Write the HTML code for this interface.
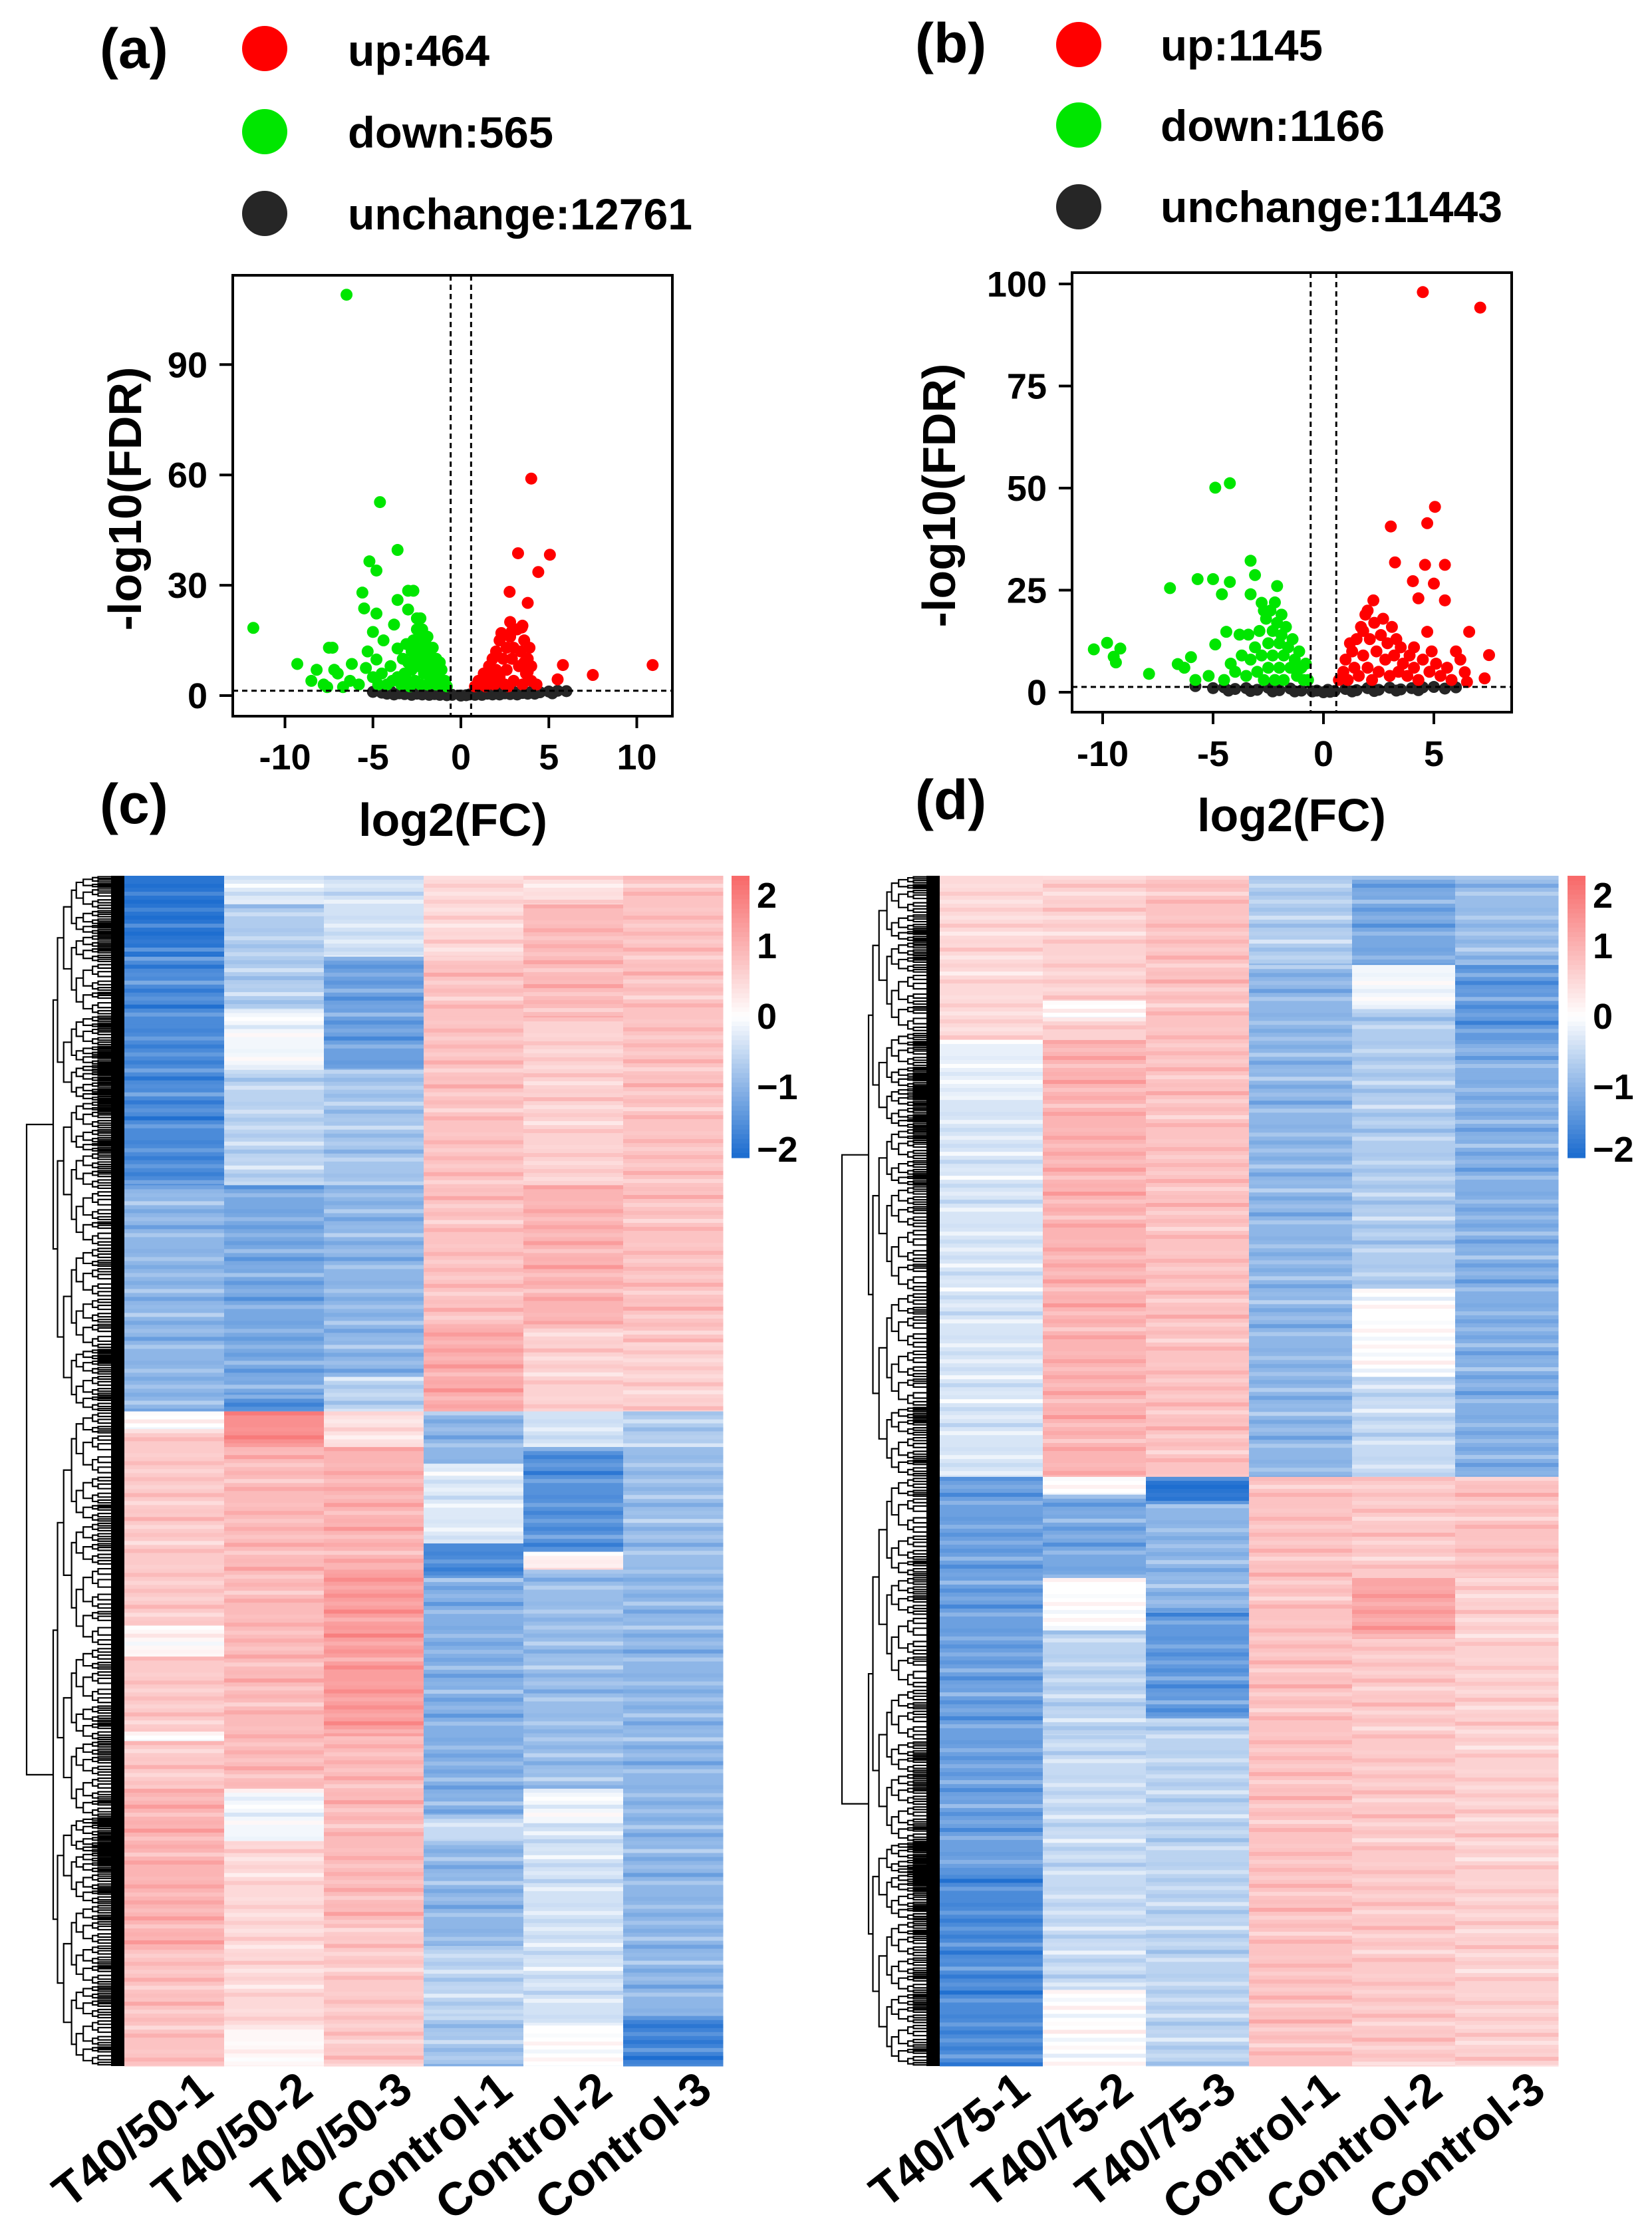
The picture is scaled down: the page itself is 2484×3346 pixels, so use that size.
<!DOCTYPE html>
<html><head><meta charset="utf-8"><style>
html,body{margin:0;padding:0;background:#fff}
svg{display:block}
text{font-family:"Liberation Sans",Arial,sans-serif;font-weight:bold;fill:#000}
</style></head><body>
<svg id="fig" width="2484" height="3346" viewBox="0 0 2484 3346" xmlns="http://www.w3.org/2000/svg">
<g id="root"></g>
</svg>
<script>
// ---------- DATA ----------
const aLegend = ["up:464","down:565","unchange:12761"];
const bLegend = ["up:1145","down:1166","unchange:11443"];
const aXTicks = [-10,-5,0,5,10];
const aYTicks = [0,30,60,90];
const bXTicks = [-10,-5,0,5];
const bYTicks = [0,25,50,75,100];

const aGreen = [[-6.5,109],[-11.8,18.4],[-4.6,52.6],[-3.6,39.6],[-5.2,36.5],[-4.8,34],[-5.6,28],[-3,28.5],[-2.7,28.5],[-3.6,26],[-5.5,23.7],[-4.8,22.3],[-3,23.4],[-2.3,21],[-3.8,19.3],[-5,17.3],[-9.3,8.6],[-7.5,13],[-7.3,13],[-8.2,7],[-8.5,4],[-7.6,2.3],[-6.7,2.3],[-6.2,8.6],[-5.4,7.5],[-4.8,9.8],[-3.6,12.8],
[-3.4,3],[-3.2,6],[-3.0,9],[-3.0,4],[-2.8,12],[-2.8,7],[-2.7,15],[-2.6,10],[-2.6,4],[-2.5,18],[-2.4,13],[-2.4,8],[-2.3,3],[-2.2,16],[-2.2,11],[-2.1,6],[-2.0,14],[-2.0,9],[-1.9,3],[-1.8,12],[-1.8,7],[-1.7,10],[-1.6,5],[-1.5,8],[-1.4,3],[-1.3,6],[-1.2,4],[-1.1,7],[-1.0,3],[-0.9,4],[-0.8,2.5],[-2.9,2.5],[-3.3,10],[-3.6,5],[-3.9,4],[-4.2,3],[-4.5,6],[-4.0,8],[-4.7,3],[-5.0,5],[-5.8,3],[-6.3,4],[-7.0,6],[-7.8,3],[-3.1,14],[-2.5,21],[-2.2,18],[-1.9,16],[-1.6,13],[-1.4,10],[-1.2,9],[-5.3,12],[-4.4,15],[-7.2,7]];
const aRed = [[4,59],[3.25,38.7],[5.06,38.3],[4.4,33.6],[2.77,28.2],[3.8,25.2],[2.8,20],[3.46,18.5],[10.9,8.3],[5.8,8.3],[7.5,5.6],[5.5,4.4],
[0.8,2.5],[1.0,4],[1.2,3],[1.3,6],[1.5,4],[1.6,8],[1.7,5],[1.8,10],[1.9,3],[2.0,12],[2.0,7],[2.2,15],[2.2,5],[2.3,17],[2.4,10],[2.5,3],[2.6,13],[2.6,7],[2.8,16],[2.9,10],[3.0,4],[3.0,13],[3.2,18],[3.3,8],[3.4,12],[3.5,3],[3.6,15],[3.7,6],[3.8,10],[3.9,13],[4.0,4],[4.0,8],[3.5,19],[2.9,17.5],[1.4,2.5],[2.7,2.5],[4.3,3],[3.8,6.5],[3.6,9]];
const aGray = [[-5,1],[-4.5,0.8],[-4,1.2],[-3.5,0.6],[-3,1],[-2.5,0.5],[-2,1.1],[-1.5,0.4],[-1,0.9],[-0.5,0.2],[0,0],[0.5,0.3],[1,0.8],[1.5,0.5],[2,1],[2.5,0.6],[3,1],[3.5,0.7],[4,1],[4.5,0.9],[5,1.1],[5.5,1.3],[6,1.2],[-4.8,1.5],[-3.8,0.3],[-2.8,0.2],[-1.8,0.2],[-0.8,0.1],[0.3,0.1],[1.2,0.2],[2.2,0.3],[3.2,0.3],[4.2,0.5],[5.2,0.6],[-4.2,0.5],[-3.2,0.4],[-2.2,0.3],[-1.2,0.2],[0.8,0.2],[1.8,0.3],[2.8,0.4],[3.8,0.5]];

const bGreen = [[-4.24,51.2],[-4.9,50.1],[-3.3,32.2],[-3.1,28.7],[-5.7,27.7],[-5,27.7],[-4.24,27],[-6.95,25.5],[-2.1,26],[-4.6,24],[-3.3,24],[-2.8,21.9],[-10.4,10.5],[-9.8,12.1],[-9.2,10.7],[-9.5,8.7],[-9.4,7.3],[-7.9,4.5],[-6.6,6.9],[-6,8.6],[-4.9,11.7],[-4.4,14.8],[-3.8,14.1],[-3.4,14.1],
[-3.5,4],[-3.3,8],[-3.1,11],[-3.0,5],[-2.9,15],[-2.8,9],[-2.7,3],[-2.6,18],[-2.5,12],[-2.5,6],[-2.4,20],[-2.3,15],[-2.3,9],[-2.2,3],[-2.1,17],[-2.0,12],[-2.0,6],[-1.9,14],[-1.8,9],[-1.8,3],[-1.7,16],[-1.6,11],[-1.5,6],[-1.4,13],[-1.3,8],[-1.2,4],[-1.1,10],[-1.0,6],[-0.9,3],[-0.8,7],[-0.7,3],[-4.0,5],[-4.5,3],[-5.2,4],[-5.8,3],[-6.3,6],[-3.7,9],[-2.7,20],[-2.2,22],[-1.9,19],[-4.2,7]];
const bRed = [[4.5,98],[7.1,94.2],[5.05,45.4],[4.7,41.4],[3.05,40.6],[3.24,31.8],[4.6,31.2],[5.5,31.2],[4.05,27.2],[5,26.6],[4.3,23],[5.5,22.5],[2.26,22.5],[6.6,14.8],[4.7,14.8],[7.5,9.1],[7.3,3.4],[6,10],[6.4,4.9],
[0.7,3],[0.9,5],[1.0,8],[1.1,3],[1.3,10],[1.4,6],[1.5,13],[1.6,4],[1.7,16],[1.8,9],[1.9,19],[2.0,6],[2.1,13],[2.2,3],[2.3,17],[2.4,10],[2.5,5],[2.6,14],[2.7,18],[2.8,8],[2.9,12],[3.0,4],[3.1,16],[3.2,9],[3.3,13],[3.4,5],[3.5,11],[3.6,7],[3.8,4],[3.9,9],[4.1,6],[4.3,3],[4.5,8],[4.8,5],[5.1,7],[5.3,4],[5.6,6],[5.8,3],[6.2,8],[6.5,2.5],[4.1,11],[4.9,10],[2.0,20],[1.8,15],[1.2,12]];
const bGray = [[-5.8,1.5],[-5,1],[-4.5,1.2],[-4,0.8],[-3.5,1],[-3,0.6],[-2.5,1.1],[-2,0.5],[-1.5,0.9],[-1,0.4],[-0.5,0.2],[0,0],[0.5,0.3],[1,0.8],[1.5,0.5],[2,1],[2.5,0.6],[3,1.1],[3.5,0.7],[4,1],[4.5,1.2],[5,1.3],[5.5,0.9],[6,1.2],[-4.3,0.4],[-3.3,0.3],[-2.3,0.2],[-1.3,0.2],[0.3,0.1],[1.3,0.2],[2.3,0.3],[3.3,0.4],[4.3,0.5],[-0.3,0.4],[0.2,0.6]];

const cCols = ["T40/50-1","T40/50-2","T40/50-3","Control-1","Control-2","Control-3"];
// segments: [startFrac, endFrac, value]
const cSegs = [
 [[0,.068,-1.9],[.068,.26,-1.6],[.26,.45,-1.0],[.45,.465,0],[.465,.63,0.7],[.63,.656,0.1],[.656,.719,0.7],[.719,.727,0],[.727,.767,0.7],[.767,.899,1.0],[.899,1,0.8]],
 [[0,.024,-0.3],[.024,.112,-0.7],[.112,.163,-0.1],[.163,.26,-0.6],[.26,.436,-1.2],[.436,.45,-1.5],[.45,.48,1.5],[.48,.767,0.9],[.767,.811,-0.1],[.811,.966,0.5],[.966,1,0.1]],
 [[0,.068,-0.4],[.068,.163,-1.3],[.163,.26,-0.8],[.26,.421,-1.0],[.421,.45,-0.6],[.45,.48,0.4],[.48,.583,1.0],[.583,.723,1.3],[.723,.884,0.9],[.884,1,0.7]],
 [[0,.068,0.5],[.068,.377,0.8],[.377,.45,1.1],[.45,.494,-1.0],[.494,.561,-0.3],[.561,.59,-1.6],[.59,.789,-1.1],[.789,.811,-0.5],[.811,.899,-1.0],[.899,.958,-0.6],[.958,1,-0.8]],
 [[0,.024,0.4],[.024,.119,0.9],[.119,.26,0.6],[.26,.377,1.0],[.377,.45,0.6],[.45,.48,-0.4],[.48,.568,-1.5],[.568,.583,0.2],[.583,.767,-0.9],[.767,.796,-0.1],[.796,.966,-0.4],[.966,1,0]],
 [[0,.392,0.8],[.392,.45,0.6],[.45,.48,-0.7],[.48,.583,-0.9],[.583,.958,-1.0],[.958,1,-1.7]]
];
const dCols = ["T40/75-1","T40/75-2","T40/75-3","Control-1","Control-2","Control-3"];
const dSegs = [
 [[0,.138,0.5],[.138,.185,-0.2],[.185,.505,-0.35],[.505,.836,-1.3],[.836,1,-1.6]],
 [[0,.105,0.6],[.105,.119,0],[.119,.138,0.6],[.138,.505,1.0],[.505,.52,0],[.52,.59,-1.2],[.59,.634,0],[.634,.722,-0.6],[.722,.936,-0.5],[.936,1,0]],
 [[0,.505,0.8],[.505,.528,-1.9],[.528,.619,-1.0],[.619,.708,-1.4],[.708,1,-0.6]],
 [[0,.075,-0.7],[.075,.505,-1.0],[.505,1,0.8]],
 [[0,.075,-1.2],[.075,.112,-0.1],[.112,.347,-0.7],[.347,.421,0],[.421,.505,-0.5],[.505,.59,0.7],[.59,.641,1.2],[.641,1,0.7]],
 [[0,.075,-0.9],[.075,.138,-1.4],[.138,.505,-1.1],[.505,.59,0.8],[.59,1,0.6]]
];
const cbTicks = [2,1,0,-1,-2];
const cSplit = 0.45, dSplit = 0.505;
// subtle row striping offsets (value deltas) cycled down each column
const stripeDeltas = [0.15,-0.1,0.25,-0.2,0.05,0.3,-0.15,0.1,-0.25,0.2,0,-0.05,0.18,-0.12];

// ---------- DRAWING ----------
const NS="http://www.w3.org/2000/svg";
const root=document.getElementById('root');
function el(tag,attrs,parent){const e=document.createElementNS(NS,tag);for(const k in attrs)e.setAttribute(k,attrs[k]);(parent||root).appendChild(e);return e;}
function txt(s,attrs,parent){const e=el('text',attrs,parent);e.textContent=s;return e;}

function volcano(cfg){
  const g=el('g',{});
  
  
  const X=v=>cfg.x0+v*cfg.xs, Y=v=>cfg.y0-v*cfg.ys;
  const pl=txt(cfg.label,{x:cfg.labX,y:cfg.labY,'font-size':84},g);
  
  const cols=['#ff0000','#00e600','#262626'];
  cfg.legend.forEach((s,i)=>{
    const lg=el('g',{},g);
    
    el('circle',{cx:cfg.legCx,cy:cfg.legCy[i],r:34,fill:cols[i]},lg);
    txt(s,{x:cfg.legTx,y:cfg.legBase[i],'font-size':66,textLength:cfg.legW[i],lengthAdjust:'spacingAndGlyphs'},lg);
  });
  const plot=el('g',{},g);
  
  const draw=(arr,c)=>arr.forEach(p=>{const d=el('circle',{cx:X(p[0]),cy:Y(p[1]),r:9,fill:c},plot);});
  draw(cfg.gray,'#262626');draw(cfg.green,'#00e600');draw(cfg.red,'#ff0000');
  [-0.58,0.58].forEach(v=>el('line',{x1:X(v),x2:X(v),y1:cfg.top,y2:cfg.bot,stroke:'#000','stroke-width':3,'stroke-dasharray':'8,6'},plot));
  el('line',{x1:cfg.left,x2:cfg.right,y1:Y(1.3),y2:Y(1.3),stroke:'#000','stroke-width':3,'stroke-dasharray':'8,6'},plot);
  const box=el('rect',{x:cfg.left,y:cfg.top,width:cfg.right-cfg.left,height:cfg.bot-cfg.top,fill:'none',stroke:'#000','stroke-width':4},g);
  
  cfg.xt.forEach(v=>{el('line',{x1:X(v),x2:X(v),y1:cfg.bot,y2:cfg.bot+18,stroke:'#000','stroke-width':4},g);
    const t=txt((v<0?'-':'')+Math.abs(v),{x:X(v),y:cfg.xtY,'font-size':54,'text-anchor':'middle'},g);});
  cfg.yt.forEach(v=>{el('line',{x1:cfg.left-20,x2:cfg.left,y1:Y(v),y2:Y(v),stroke:'#000','stroke-width':4},g);
    const t=txt(String(v),{x:cfg.left-38,y:Y(v)+19,'font-size':54,'text-anchor':'end'},g);});
  const yt=txt('-log10(FDR)',{x:0,y:0,'font-size':70,'text-anchor':'middle',transform:`translate(${cfg.yTitleX},${cfg.yTitleY}) rotate(-90)`},g);
  
  const xt=txt('log2(FC)',{x:cfg.xTitleX,y:cfg.xTitleY,'font-size':70,'text-anchor':'middle'},g);
  
}
volcano({name:'volcano-a',label:'(a)',labX:150,labY:102,x0:693,xs:26.45,y0:1046,ys:5.53,left:350,right:1011,top:414,bot:1077,
  legend:aLegend,legCx:398,legCy:[73,198,321],legTx:523,legBase:[99,222,345],legW:[213,309,518],
  green:aGreen,red:aRed,gray:aGray,xt:aXTicks,yt:aYTicks,xtY:1157,yTitleX:212,yTitleY:750,xTitleX:681,xTitleY:1257});
volcano({name:'volcano-b',label:'(b)',labX:1376,labY:94,x0:1990,xs:33.2,y0:1041,ys:6.14,left:1612,right:2273,top:410,bot:1071,
  legend:bLegend,legCx:1622,legCy:[67,188,311],legTx:1745,legBase:[91,212,334],legW:[244,337,514],
  green:bGreen,red:bRed,gray:bGray,xt:bXTicks,yt:bYTicks,xtY:1152,yTitleX:1436,yTitleY:745,xTitleX:1942,xTitleY:1250});
{const t=txt('(c)',{x:150,y:1238,'font-size':84});}
{const t=txt('(d)',{x:1376,y:1232,'font-size':84});}

function color(v){
  v=Math.max(-2,Math.min(2,v));
  let r,g,b;
  if(v>=0){const t=v/2;r=255-t*(255-248);g=255-t*(255-106);b=255-t*(255-106);}
  else{const t=-v/2;r=255-t*(255-30);g=255-t*(255-110);b=255-t*(255-208);}
  return `rgb(${r|0},${g|0},${b|0})`;
}
const splitRatios=[0.5,0.42,0.58,0.35,0.62,0.47,0.55,0.4];
function dendro(g,a,b,xRight,xNode,depth,maxDepth,idx){
  if(depth>=maxDepth){return (a+b)/2;}
  const r=splitRatios[(idx+depth)%splitRatios.length];
  const m=a+(b-a)*r;
  const step=(xRight-xNode)/(maxDepth-depth);
  const childX=xNode+step*(0.6+0.4*((idx*3+depth)%3)/2);
  const y1=dendro(g,a,m,xRight,childX,depth+1,maxDepth,idx*2+1);
  const y2=dendro(g,m,b,xRight,childX,depth+1,maxDepth,idx*2+2);
  const cx=depth+1>=maxDepth?xRight:childX;
  el('path',{d:`M${cx},${y1}H${xNode}V${y2}H${cx}`,fill:'none',stroke:'#000','stroke-width':2.2},g);
  return (y1+y2)/2;
}
function heatmap(cfg){
  const g=el('g',{});
  
  const H=cfg.bot-cfg.top;
  const Yf=f=>cfg.top+f*H;
  const rowH=6;
  cfg.segs.forEach((col,ci)=>{
    const cg=el('g',{},g);
    col.forEach(s=>{const r=el('rect',{x:cfg.left+ci*cfg.cw,y:Yf(s[0]),width:cfg.cw+0.5,height:(s[1]-s[0])*H+0.5,fill:color(s[2])},cg);
      
      // striping
      const y0=Yf(s[0]),y1=Yf(s[1]);let k=ci*5+Math.round(y0/rowH);
      for(let y=y0;y<y1-0.5;y+=rowH*2,k++){
        const v=s[2]+stripeDeltas[k%stripeDeltas.length]*(1+Math.abs(s[2])*0.3);
        el('rect',{x:cfg.left+ci*cfg.cw,y:y,width:cfg.cw+0.5,height:Math.min(rowH,y1-y),fill:color(v)},cg);
      }
    });
  });
  const dg=el('g',{},g);
  const split=cfg.top+cfg.split*H;
  const y1=dendro(dg,cfg.top,split,cfg.left-20,cfg.dendL+40,0,8,1);
  const y2=dendro(dg,split,cfg.bot,cfg.left-20,cfg.dendL+40,0,8,4);
  el('path',{d:`M${cfg.dendL+40},${y1}H${cfg.dendL}V${y2}H${cfg.dendL+40}`,fill:'none',stroke:'#000','stroke-width':2.2},dg);
  el('rect',{x:cfg.left-20,y:cfg.top,width:20,height:H,fill:'#000'},dg);
  const cb=el('g',{},g);
  const cbTop=1317,cbBot=1741,n=60;
  for(let i=0;i<n;i++){const v=2-4*i/(n-1);el('rect',{x:cfg.cbX,y:cbTop+i*(cbBot-cbTop)/n,width:27,height:(cbBot-cbTop)/n+0.6,fill:color(v)},cb);}
  cbTicks.forEach(v=>{const y=cbTop+(2-v)/4*(cbBot-cbTop);const yy=Math.min(Math.max(y,cbTop+30),cbBot-12);
    const t=txt(v<0?'\u2212'+Math.abs(v):String(v),{x:cfg.cbX+38,y:yy+18,'font-size':54},cb);});
  cfg.cols.forEach((s,i)=>{const cx=cfg.left+i*cfg.cw+cfg.cw/2+62;
    const t=txt(s,{x:0,y:0,'font-size':70,'text-anchor':'end',transform:`translate(${cx},3150) rotate(-38)`},g);
    });
}
heatmap({name:'heatmap-c',segs:cSegs,cols:cCols,left:187,cw:150,top:1317,bot:3107,split:cSplit,dendL:40,cbX:1100});
heatmap({name:'heatmap-d',segs:dSegs,cols:dCols,left:1413,cw:155,top:1317,bot:3107,split:dSplit,dendL:1266,cbX:2357});
</script>
</body></html>
